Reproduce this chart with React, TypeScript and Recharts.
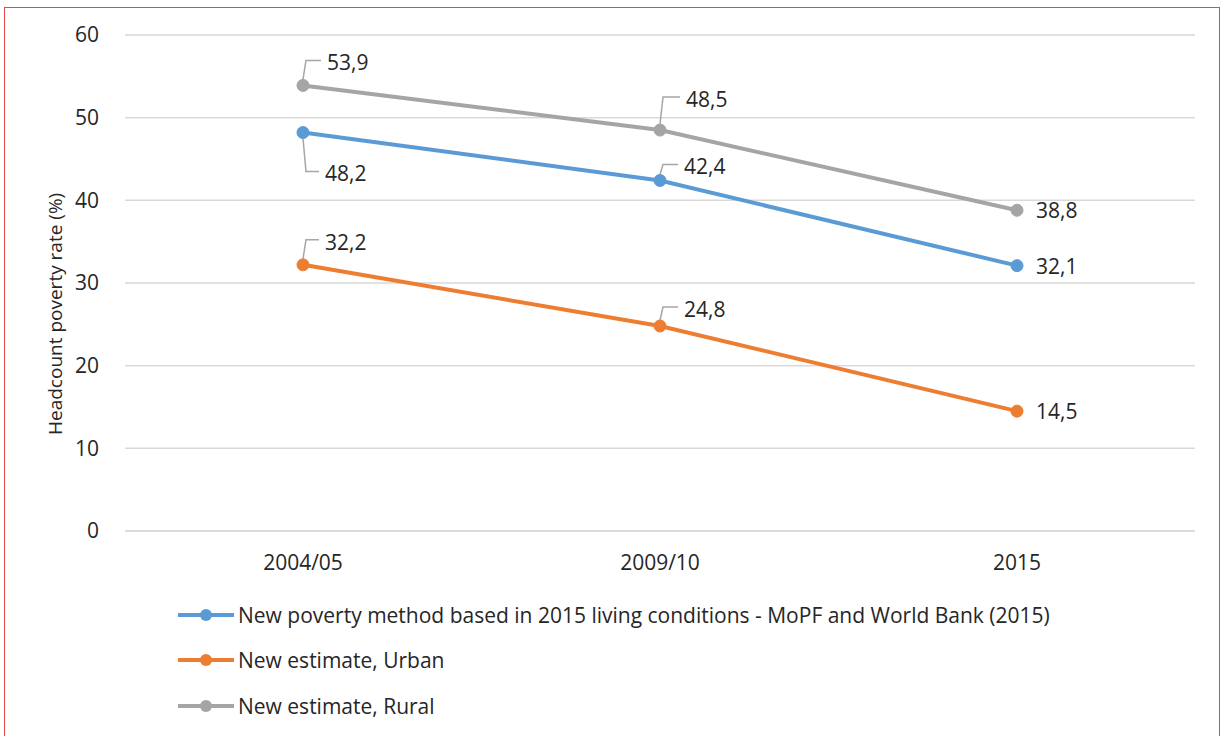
import React from "react";
import { LineChart, Line, XAxis, YAxis, CartesianGrid, LabelList } from "recharts";

const years = ["2004/05", "2009/10", "2015"];
const newMethod = [48.2, 42.4, 32.1];
const urban = [32.2, 24.8, 14.5];
const rural = [53.9, 48.5, 38.8];
const yTicks = [0, 10, 20, 30, 40, 50, 60];

const seriesNames = {
  newMethod: "New poverty method based in 2015 living conditions - MoPF and World Bank (2015)",
  urban: "New estimate, Urban",
  rural: "New estimate, Rural",
};

const data = years.map((y, i) => ({
  year: y,
  newMethod: newMethod[i],
  urban: urban[i],
  rural: rural[i],
}));

const FONT = "'Open Sans', 'Liberation Sans', sans-serif";
const TEXT = "#262626";
const LEADER = "#a6a6a6";

// label placement per series / point: dx, dy of text, and whether a leader is drawn
type Place = { dx: number; dy: number; leader: boolean };
const placements: Record<string, Place[]> = {
  newMethod: [
    { dx: 22, dy: 40, leader: true },
    { dx: 24, dy: -14, leader: true },
    { dx: 19, dy: 0, leader: false },
  ],
  urban: [
    { dx: 22, dy: -23, leader: true },
    { dx: 24, dy: -17, leader: true },
    { dx: 19, dy: 0, leader: false },
  ],
  rural: [
    { dx: 24, dy: -23, leader: true },
    { dx: 26, dy: -31, leader: true },
    { dx: 19, dy: 0, leader: false },
  ],
};

const fmt = (v: number) => v.toFixed(1).replace(".", ",");

function makeLabel(key: string) {
  return (props: any) => {
    const { x, y, value, index } = props;
    const p = placements[key][index];
    const tx = x + p.dx;
    const ty = y + p.dy;
    const up = p.dy < 0;
    const hy = up ? ty - 2 : ty - 1;
    return (
      <g>
        {p.leader && (
          <polyline
            points={`${x},${up ? y - 6 : y + 6} ${x + 3},${hy} ${tx - 6},${hy}`}
            fill="none"
            stroke={LEADER}
            strokeWidth={1.5}
          />
        )}
        <text
          x={tx}
          y={ty}
          dominantBaseline="central"
          fontFamily={FONT}
          fontSize={21}
          fill={TEXT}
        >
          {fmt(value)}
        </text>
      </g>
    );
  };
}

const series = [
  { key: "newMethod", color: "#5b9bd5" },
  { key: "urban", color: "#ed7d31" },
  { key: "rural", color: "#a5a5a5" },
];

function LegendBox() {
  return (
    <div style={{ position: "absolute", left: 178, top: 592, fontFamily: FONT, fontSize: 21, color: TEXT }}>
      {series.map((s) => (
        <div key={s.key} style={{ display: "flex", alignItems: "center", height: 45.5 }}>
          <svg width={60} height={16} style={{ flex: "none" }}>
            <line x1={0} y1={8} x2={56} y2={8} stroke={s.color} strokeWidth={4} />
            <circle cx={28} cy={8} r={6} fill={s.color} />
          </svg>
          <span>{(seriesNames as any)[s.key]}</span>
        </div>
      ))}
    </div>
  );
}

export default function App() {
  return (
    <div
      style={{
        position: "absolute",
        left: 0,
        top: 0,
        width: 1223,
        height: 736,
        background: "#fff",
        overflow: "hidden",
      }}
    >
      <div
        style={{
          position: "absolute",
          left: 4,
          top: 7,
          width: 1216,
          height: 740,
          border: "1.5px solid #e8474a",
          boxSizing: "border-box",
        }}
      />
      <LineChart
        width={1223}
        height={736}
        data={data}
        margin={{ top: 35, right: 28, left: 60, bottom: 165 }}
      >
        <CartesianGrid vertical={false} stroke="#d9d9d9" strokeWidth={1.5} />
        <XAxis
          dataKey="year"
          axisLine={{ stroke: "#d9d9d9", strokeWidth: 1.5 }}
          tickLine={false}
          height={40}
          padding={{ left: 178, right: 178 }}
          tick={{ fontFamily: FONT, fontSize: 21, fill: TEXT }}
          tickMargin={18}
        />
        <YAxis
          domain={[0, 60]}
          ticks={yTicks}
          axisLine={false}
          tickLine={false}
          width={65}
          tickMargin={20}
          tick={{ fontFamily: FONT, fontSize: 21, fill: TEXT }}
          label={{
            value: "Headcount poverty rate (%)",
            angle: -90,
            position: "insideLeft",
            dx: -10,
            dy: 152,
            style: { fontFamily: FONT, fontSize: 19, fill: TEXT },
          }}
        />
        {series.map((s) => (
          <Line
            key={s.key}
            dataKey={s.key}
            stroke={s.color}
            strokeWidth={4}
            dot={{ r: 6, fill: s.color, stroke: s.color, strokeWidth: 1 }}
            activeDot={false}
            isAnimationActive={false}
          >
            <LabelList dataKey={s.key} content={makeLabel(s.key)} />
          </Line>
        ))}
      </LineChart>
      <LegendBox />
    </div>
  );
}
